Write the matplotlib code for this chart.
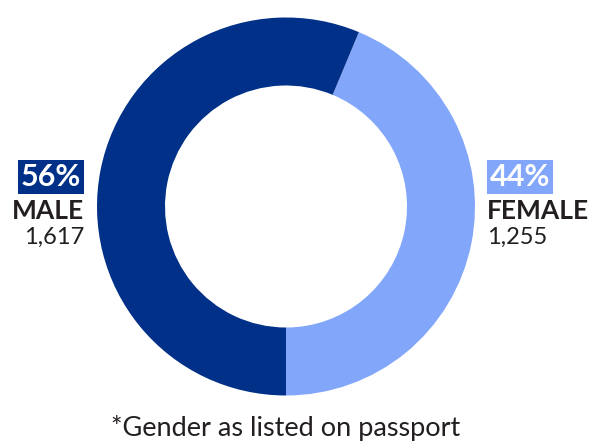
import matplotlib
matplotlib.use("Agg")
import matplotlib.pyplot as plt

categories = ["FEMALE", "MALE"]
counts = [1255, 1617]
percents = ["44%", "56%"]
count_labels = ["1,255", "1,617"]
colors = ["#82A6FA", "#003087"]
footnote = "*Gender as listed on passport"

W, H = 605, 443
fig = plt.figure(figsize=(W / 100, H / 100), dpi=100)
ax = fig.add_axes([0, 0, 1, 1])
cx, cy, R = 286, H - 206.5, 189
ax.pie(counts, colors=colors, startangle=-90, counterclock=True,
       center=(cx, cy), radius=R,
       wedgeprops=dict(width=R - 121, linewidth=0))
ax.set_xlim(0, W)
ax.set_ylim(0, H)
ax.set_aspect("equal")
ax.axis("off")

txt = "#231f20"
fam = ["Lato", "DejaVu Sans"]

# Male (left)
ax.text(81, H - 177, percents[1], ha="right", va="center", fontsize=22, fontweight="bold",
        color="white", family=fam,
        bbox=dict(boxstyle="square,pad=0.1", fc=colors[1], ec="none"))
ax.text(84, H - 211, categories[1], ha="right", va="center", fontsize=19, fontweight="bold",
        color=txt, family=fam)
ax.text(84, H - 237, count_labels[1], ha="right", va="center", fontsize=17,
        color=txt, family=fam)

# Female (right)
ax.text(490, H - 177, percents[0], ha="left", va="center", fontsize=22, fontweight="bold",
        color="white", family=fam,
        bbox=dict(boxstyle="square,pad=0.1", fc=colors[0], ec="none"))
ax.text(487, H - 211, categories[0], ha="left", va="center", fontsize=19, fontweight="bold",
        color=txt, family=fam)
ax.text(487, H - 237, count_labels[0], ha="left", va="center", fontsize=17,
        color=txt, family=fam)

ax.text(286, H - 428, footnote, ha="center", va="center", fontsize=19.5,
        color=txt, family=fam)

fig.savefig("out.png", dpi=100)
